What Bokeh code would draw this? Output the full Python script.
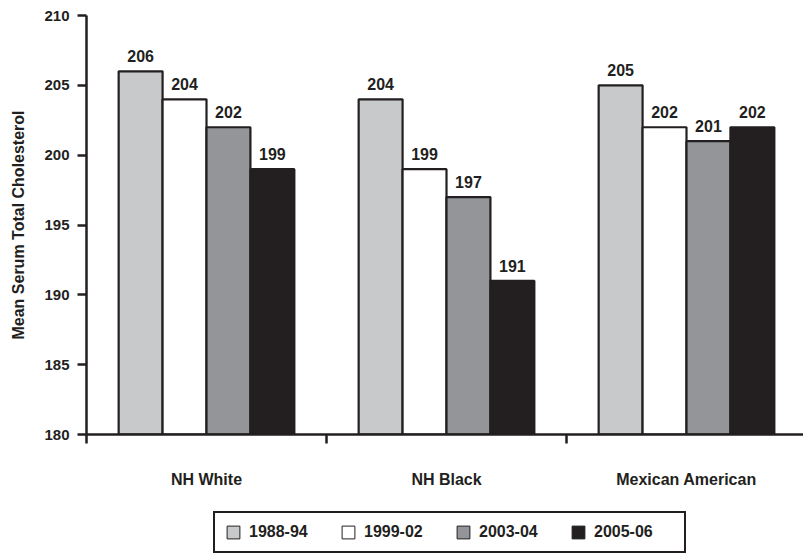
from bokeh.plotting import figure
from bokeh.layouts import column
from bokeh.models import (FixedTicker, Legend, LegendItem, Range1d,
                          ColumnDataSource)
from bokeh.core.properties import value
from bokeh.embed import file_html
from bokeh.resources import INLINE

categories = ["NH White", "NH Black", "Mexican American"]
series = ["1988-94", "1999-02", "2003-04", "2005-06"]
vals_1988_94 = [206, 204, 205]
vals_1999_02 = [204, 199, 202]
vals_2003_04 = [202, 197, 201]
vals_2005_06 = [199, 191, 202]
colors = ["#c8c9cb", "#ffffff", "#939598", "#231f20"]
y_ticks = [180, 185, 190, 195, 200, 205, 210]

FONT = "Liberation Sans"
INK = "#231f20"

p = figure(width=803, height=490, output_backend="svg", toolbar_location=None,
           x_range=Range1d(0, 2.9875), y_range=Range1d(180, 210),
           min_border_left=86, min_border_right=0, min_border_top=15,
           min_border_bottom=47)
p.outline_line_color = None
p.xgrid.visible = False
p.ygrid.visible = False
p.border_fill_color = "white"

all_vals = [vals_1988_94, vals_1999_02, vals_2003_04, vals_2005_06]
bw = 0.183
offsets = [-1.5, -0.5, 0.5, 1.5]
for vals, col, off in zip(all_vals, colors, offsets):
    xs = [i + 0.5 + off * bw for i in range(len(categories))]
    src = ColumnDataSource(dict(x=xs, top=vals, lab=[str(v) for v in vals]))
    p.vbar(x="x", top="top", bottom=180, width=bw, source=src,
           fill_color=col, line_color=INK, line_width=2.2)
    p.text(x="x", y="top", text="lab", source=src, text_align="center",
           text_baseline="bottom", y_offset=-9,
           text_font=value(FONT), text_font_style="bold",
           text_font_size="16px", text_color=INK)

# y axis
yax = p.yaxis[0]
yax.ticker = FixedTicker(ticks=y_ticks)
yax.axis_label = "Mean Serum Total Cholesterol"
yax.axis_label_text_font = FONT
yax.axis_label_text_font_style = "bold"
yax.axis_label_text_font_size = "16px"
yax.axis_label_text_color = INK
yax.axis_label_standoff = 14
yax.major_label_text_font = FONT
yax.major_label_text_font_style = "bold"
yax.major_label_text_font_size = "15px"
yax.major_label_text_color = INK
yax.major_tick_out = 9
yax.major_tick_in = 0
yax.minor_tick_out = 0
yax.minor_tick_in = 0
yax.major_label_standoff = 8
yax.axis_line_width = 2.5
yax.major_tick_line_width = 2.5
yax.axis_line_color = INK
yax.major_tick_line_color = INK

# x axis
xax = p.xaxis[0]
xax.ticker = FixedTicker(ticks=[0.5, 1.5, 2.5], minor_ticks=[0, 1, 2, 3])
xax.major_label_overrides = {0.5: categories[0], 1.5: categories[1], 2.5: categories[2]}
xax.major_tick_out = 0
xax.major_tick_in = 0
xax.minor_tick_out = 9
xax.minor_tick_in = 0
xax.minor_tick_line_width = 2.5
xax.minor_tick_line_color = INK
xax.major_label_standoff = 27
xax.major_label_text_font = FONT
xax.major_label_text_font_style = "bold"
xax.major_label_text_font_size = "16px"
xax.major_label_text_color = INK
xax.axis_line_width = 2.5
xax.axis_line_color = INK

# legend strip below the chart
lp = figure(width=803, height=65, output_backend="svg", toolbar_location=None,
            x_range=Range1d(0, 1), y_range=Range1d(0, 1),
            x_axis_type=None, y_axis_type=None,
            min_border_left=0, min_border_right=0, min_border_top=0,
            min_border_bottom=0)
lp.outline_line_color = None
lp.xgrid.visible = False
lp.ygrid.visible = False
swatches = []
for col in colors:
    # tiny legend swatch renderers, hidden behind the legend's white box
    swatches.append(lp.vbar(x=[0.5], top=[0.35], bottom=0.3, width=0.005,
                            fill_color=col, line_color=INK, line_width=1))

legend = Legend(items=[LegendItem(label=s, renderers=[r]) for s, r in zip(series, swatches)],
                orientation="horizontal", location=(127, 2),
                glyph_width=16, glyph_height=16, label_standoff=8, spacing=11,
                label_width=80, padding=10, margin=0,
                label_text_font=FONT, label_text_font_style="bold",
                label_text_font_size="16px", label_text_color=INK,
                border_line_color=INK, border_line_width=2, border_line_alpha=1,
                background_fill_color="white", background_fill_alpha=1)
lp.add_layout(legend, "center")

layout = column(p, lp, spacing=0)
open("out.html", "w").write(file_html(layout, INLINE))
